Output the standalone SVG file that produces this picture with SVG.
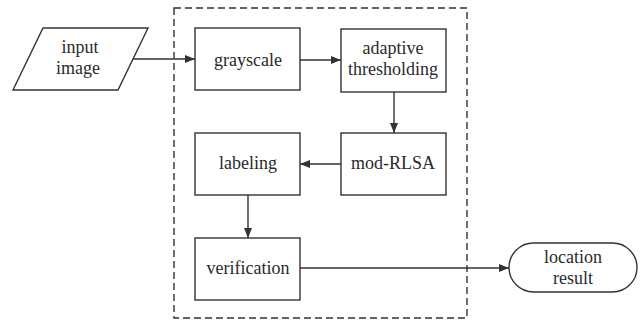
<svg xmlns="http://www.w3.org/2000/svg" width="640" height="322" viewBox="0 0 640 322">
<style>
.s{fill:#fff;stroke:#333;stroke-width:1.4}
.t{font-family:"Liberation Serif","Times New Roman",serif;font-size:18px;fill:#2a2a2a;text-anchor:middle}
.c{fill:none;stroke:#333;stroke-width:1.4}
.frame{fill:none;stroke:#333;stroke-width:1.4;stroke-dasharray:7,4}
</style>
<defs>
<marker id="a" markerWidth="10" markerHeight="8" refX="10" refY="4" orient="auto" markerUnits="userSpaceOnUse">
<path d="M0,0 L10,4 L0,8 Z" fill="#333"/>
</marker>
</defs>
<rect class="frame" x="174" y="8" width="293" height="310"/>
<g id="connectors">
<line class="c" x1="133" y1="59" x2="195" y2="59" marker-end="url(#a)"/>
<line class="c" x1="300" y1="60" x2="341" y2="60" marker-end="url(#a)"/>
<line class="c" x1="394" y1="92" x2="394" y2="133" marker-end="url(#a)"/>
<line class="c" x1="341" y1="164" x2="300" y2="164" marker-end="url(#a)"/>
<line class="c" x1="248" y1="195" x2="248" y2="238" marker-end="url(#a)"/>
<line class="c" x1="300" y1="268" x2="509" y2="268" marker-end="url(#a)"/>
</g>
<g id="input">
<polygon class="s" points="43,28 148,28 118,90 13,90"/>
<text class="t" x="80" y="53">input</text>
<text class="t" x="78" y="74">image</text>
</g>
<g id="grayscale">
<rect class="s" x="195" y="28" width="105" height="62"/>
<text class="t" x="248" y="66">grayscale</text>
</g>
<g id="adaptive">
<rect class="s" x="341" y="29" width="105" height="63"/>
<text class="t" x="393" y="54">adaptive</text>
<text class="t" x="393" y="75">thresholding</text>
</g>
<g id="modrlsa">
<rect class="s" x="341" y="133" width="105" height="62"/>
<text class="t" x="393" y="169">mod-RLSA</text>
</g>
<g id="labeling">
<rect class="s" x="195" y="133" width="105" height="62"/>
<text class="t" x="248" y="169">labeling</text>
</g>
<g id="verification">
<rect class="s" x="195" y="238" width="105" height="62"/>
<text class="t" x="248" y="274">verification</text>
</g>
<g id="result">
<rect class="s" x="509" y="243" width="128" height="49" rx="24.5"/>
<text class="t" x="573" y="263">location</text>
<text class="t" x="573" y="284">result</text>
</g>
</svg>
